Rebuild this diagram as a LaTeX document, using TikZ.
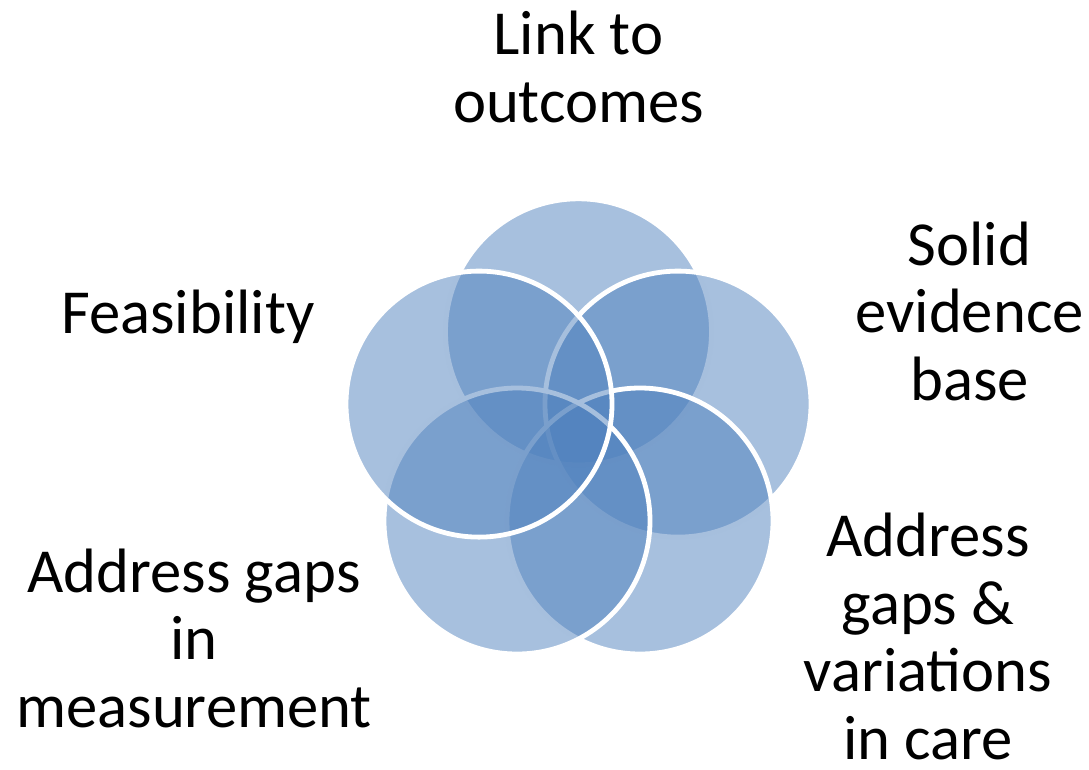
\documentclass[tikz,border=0pt]{standalone}
\usepackage{fontspec}
\setmainfont{Carlito}
\definecolor{accent}{HTML}{4F81BD}
\begin{document}
\begin{tikzpicture}[x=0.75pt,y=-0.75pt,
  petal/.style={circle, inner sep=0pt, outer sep=0pt, minimum size=199.5pt,
    fill=accent, fill opacity=0.5, draw=white, draw opacity=1, line width=3.6pt},
  lbl/.style={font=\fontsize{47}{50.6}\selectfont, align=center, anchor=base,
    inner sep=0pt, text=black, text opacity=1}]
\useasboundingbox (0,0) rectangle (1089,769);
\node[petal] (c1) at (578.5,331.8) {};
\node[petal] (c2) at (678,404.1) {};
\node[petal] (c3) at (640,521) {};
\node[petal] (c4) at (517,521) {};
\node[petal] (c5) at (479,404.1) {};
\node[lbl] (l1) at (578.5,122) {Link to\\outcomes};
\node[lbl] (l2) at (969.5,400) {Solid\\evidence\\base};
\node[lbl] (l3) at (928,759) {Address\\gaps \&\\variations\\in care};
\node[lbl] (l4) at (194,727) {Address gaps\\in\\measurement};
\node[lbl] (l5) at (188,333) {Feasibility};
\end{tikzpicture}
\end{document}
